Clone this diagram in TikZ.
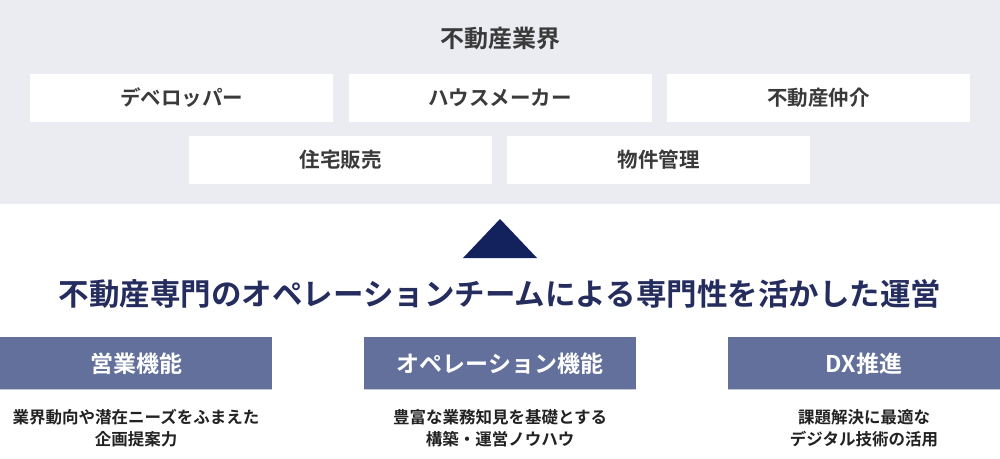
\documentclass[tikz,border=0pt]{standalone}
\usepackage{fontspec}
\setmainfont{Noto Sans CJK JP}[BoldFont={Noto Sans CJK JP Bold}]
\definecolor{bggray}{HTML}{EBECF1}
\definecolor{boxtext}{HTML}{3A3A3A}
\definecolor{navy}{HTML}{13215C}
\definecolor{navytext}{HTML}{252D5E}
\definecolor{funcblue}{HTML}{62709B}
\definecolor{funcline}{HTML}{C5CADB}
\definecolor{desctext}{HTML}{222222}
\tikzset{
  x=1pt, y=-1pt,
  industry/.style={inner sep=0pt, text height=16.4pt, text depth=0.8pt,
    fill=white, minimum width=303pt, minimum height=48pt,
    text=boxtext, font=\fontsize{20.5}{24}\selectfont\bfseries},
  funcbox/.style={inner sep=0pt, text height=18.4pt, text depth=0.9pt,
    fill=funcblue, minimum width=272pt, minimum height=53pt,
    text=white, font=\fontsize{23}{27}\selectfont\bfseries},
  desc/.style={inner sep=0pt, align=center, text=desctext,
    font=\fontsize{16.5}{22}\selectfont\bfseries},
}
\begin{document}
\begin{tikzpicture}
\useasboundingbox (0,0) rectangle (1000,458);
\fill[white] (0,0) rectangle (1000,458);
\fill[bggray] (0,0) rectangle (1000,204);

\node[inner sep=0pt, text height=19.2pt, text depth=1pt, text=boxtext,
  font=\fontsize{24}{28}\selectfont\bfseries] (title) at (500,38.5) {不動産業界};

\node[industry] (dev) at (181.5,98) {デベロッパー};
\node[industry] (house) at (500,98) {ハウスメーカー};
\node[industry] (broker) at (818.5,98) {不動産仲介};
\node[industry] (sales) at (340.5,159.5) {住宅販売};
\node[industry] (mgmt) at (658.5,159.5) {物件管理};

\coordinate (apex) at (500,219);
\coordinate (bl) at (463,258);
\coordinate (br) at (537,258);
\fill[navy] (apex) -- (br) -- (bl) -- cycle;

\node[inner sep=0pt, text height=24.4pt, text depth=1.2pt, text=navytext,
  font=\fontsize{30.5}{34}\selectfont\bfseries] (main) at (500,293.5)
  {不動産専門のオペレーションチームによる専門性を活かした運営};

\node[funcbox] (f1) at (136,363.5) {営業機能};
\node[funcbox] (f2) at (500,363.5) {オペレーション機能};
\node[funcbox] (f3) at (864,363.5) {DX推進};
\foreach \n in {f1,f2,f3}{
  \draw[funcline, line width=1pt] ([yshift=0.5pt]\n.south west) -- ([yshift=0.5pt]\n.south east);
}

\node[desc] (d1) at (136,428) {業界動向や潜在ニーズをふまえた\\企画提案力};
\node[desc] (d2) at (500,428) {豊富な業務知見を基礎とする\\構築・運営ノウハウ};
\node[desc] (d3) at (864,428) {課題解決に最適な\\デジタル技術の活用};
\end{tikzpicture}
\end{document}
